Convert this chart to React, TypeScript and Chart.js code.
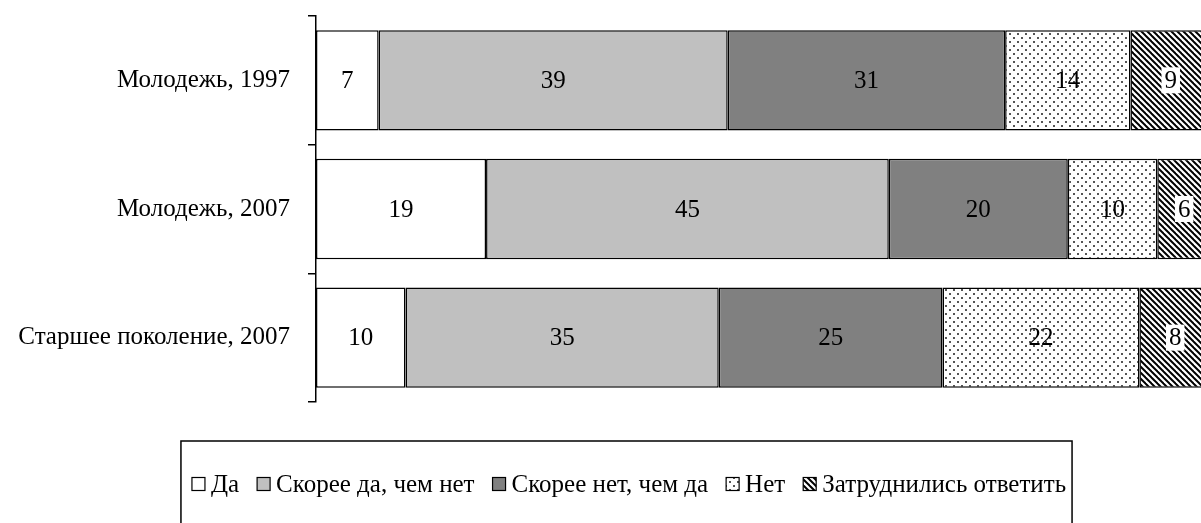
import React, { useEffect, useRef } from 'react';
import { Chart, registerables } from 'chart.js';

Chart.register(...registerables);

const categories = ['Молодежь, 1997', 'Молодежь, 2007', 'Старшее поколение, 2007'];
const seriesNames = ['Да', 'Скорее да, чем нет', 'Скорее нет, чем да', 'Нет', 'Затруднились ответить'];
const yesValues = [7, 19, 10];
const ratherYesValues = [39, 45, 35];
const ratherNoValues = [31, 20, 25];
const noValues = [14, 10, 22];
const hardValues = [9, 6, 8];

const FONT = '"Liberation Serif", "Times New Roman", serif';
const FONT_SIZE = 25;

function dotPattern(): CanvasPattern | string {
  const c = document.createElement('canvas');
  c.width = 8;
  c.height = 8;
  const g = c.getContext('2d');
  if (!g) return '#eee';
  g.fillStyle = '#fff';
  g.fillRect(0, 0, 8, 8);
  g.fillStyle = '#555';
  g.fillRect(1, 1, 2, 2);
  g.fillRect(5, 5, 2, 2);
  return g.createPattern(c, 'repeat') || '#eee';
}

function stripePattern(): CanvasPattern | string {
  const s = 6;
  const c = document.createElement('canvas');
  c.width = s;
  c.height = s;
  const g = c.getContext('2d');
  if (!g) return '#333';
  g.fillStyle = '#fff';
  g.fillRect(0, 0, s, s);
  g.strokeStyle = '#000';
  g.lineWidth = 2;
  for (let k = -1; k <= 1; k++) {
    g.beginPath();
    g.moveTo(-s + k * s, -s);
    g.lineTo(2 * s + k * s, 2 * s);
    g.stroke();
  }
  return g.createPattern(c, 'repeat') || '#333';
}

const LEGEND_CENTER_X = 629;
const LEGEND_TOP = 441;
const LEGEND_ROW_Y = 484;

export default function App() {
  const ref = useRef<HTMLCanvasElement | null>(null);

  useEffect(() => {
    const canvas = ref.current;
    if (!canvas) return;
    const fills: (CanvasPattern | string)[] = ['#ffffff', '#c0c0c0', '#808080', dotPattern(), stripePattern()];
    const values = [yesValues, ratherYesValues, ratherNoValues, noValues, hardValues];

    const labelPlugin = {
      id: 'valueLabels',
      afterDatasetsDraw(chart: any) {
        const ctx = chart.ctx as CanvasRenderingContext2D;
        ctx.save();
        ctx.font = `${FONT_SIZE}px ${FONT}`;
        ctx.textAlign = 'center';
        ctx.textBaseline = 'middle';
        chart.data.datasets.forEach((ds: any, di: number) => {
          const meta = chart.getDatasetMeta(di);
          meta.data.forEach((el: any, i: number) => {
            const v = ds.data[i];
            const cx = (el.x + el.base) / 2;
            const cy = el.y;
            const txt = String(v);
            if (di === 4) {
              const w = ctx.measureText(txt).width;
              ctx.fillStyle = '#fff';
              ctx.fillRect(cx - w / 2 - 3, cy - 13, w + 6, 26);
            }
            ctx.fillStyle = '#000';
            ctx.fillText(txt, cx, cy + 1);
          });
        });
        ctx.restore();
      },
      afterDraw(chart: any) {
        const ctx = chart.ctx as CanvasRenderingContext2D;
        ctx.save();
        ctx.font = `${FONT_SIZE}px ${FONT}`;
        const sw = 13;
        const gapText = 6;
        const gapItem = 18;
        const widths = seriesNames.map((n) => ctx.measureText(n).width);
        const total = widths.reduce((a, w) => a + sw + gapText + w, 0) + gapItem * (seriesNames.length - 1);
        let x = LEGEND_CENTER_X - total / 2;
        ctx.strokeStyle = '#000';
        ctx.lineWidth = 1.5;
        ctx.strokeRect(x - 11, LEGEND_TOP, total + 17, 200);
        ctx.textBaseline = 'middle';
        ctx.textAlign = 'left';
        seriesNames.forEach((n, i) => {
          ctx.fillStyle = fills[i] as any;
          ctx.fillRect(x, LEGEND_ROW_Y - sw / 2, sw, sw);
          ctx.lineWidth = 1.2;
          ctx.strokeRect(x, LEGEND_ROW_Y - sw / 2, sw, sw);
          ctx.fillStyle = '#000';
          ctx.fillText(n, x + sw + gapText, LEGEND_ROW_Y + 1);
          x += sw + gapText + widths[i] + gapItem;
        });
        ctx.restore();
      },
    };

    const chart = new Chart(canvas, {
      type: 'bar',
      data: {
        labels: categories,
        datasets: seriesNames.map((name, i) => ({
          label: name,
          data: values[i],
          backgroundColor: fills[i] as any,
          borderColor: '#000',
          borderWidth: 1.5,
          borderSkipped: false,
          categoryPercentage: 1,
          barPercentage: 0.78,
        })),
      },
      options: {
        indexAxis: 'y',
        responsive: false,
        animation: false,
        layout: { padding: { left: 8, right: 5, top: 16, bottom: 128 } },
        plugins: {
          legend: { display: false },
          tooltip: { enabled: false },
        },
        scales: {
          x: { stacked: true, min: 0, max: 100, display: false },
          y: {
            stacked: true,
            afterFit: (scale: any) => {
              scale.width = 308;
              scale.paddingTop = 0;
              scale.paddingBottom = 0;
            },
            grid: {
              drawOnChartArea: false,
              drawTicks: true,
              tickLength: 8,
              color: '#000',
              lineWidth: 1.5,
            },
            border: { display: true, color: '#000', width: 1.5 },
            ticks: {
              color: '#000',
              font: { family: FONT, size: FONT_SIZE },
              padding: 18,
            },
          },
        },
      },
      plugins: [labelPlugin],
    });
    return () => chart.destroy();
  }, []);

  return (
    <div
      style={{
        position: 'fixed',
        left: 0,
        top: 0,
        width: 1201,
        height: 523,
        overflow: 'hidden',
        background: '#fff',
      }}
    >
      <canvas ref={ref} width={1216} height={530} style={{ display: 'block' }} />
    </div>
  );
}
